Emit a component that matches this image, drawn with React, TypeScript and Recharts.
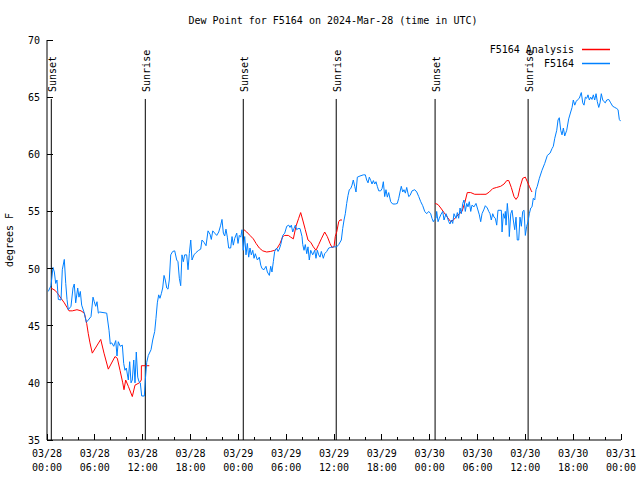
import React from 'react';
import { LineChart, Line, XAxis, YAxis, ReferenceLine } from 'recharts';

const FONT = '"DejaVu Sans Mono", "Liberation Mono", monospace';

// Observed dew point F5164: [hours since 03/28 00:00 UTC, degrees F]
const obsPoints: [number, number][] = [
  [0.16, 48.0], [0.5, 48.5], [0.75, 50.1], [0.92, 49.7], [1.09, 48.7], [1.25, 49.0], [1.42, 47.3], [1.76, 47.25],
  [1.92, 49.9], [2.17, 50.8], [2.35, 48.7], [2.51, 47.3], [2.67, 46.4], [3.01, 46.7], [3.26, 48.3], [3.42, 48.65],
  [3.6, 47.0], [3.85, 48.3], [4.01, 47.5], [4.18, 48.0], [4.35, 46.8], [4.68, 46.1], [4.93, 45.3], [5.18, 45.5],
  [5.52, 45.8], [5.77, 47.5], [5.93, 47.1], [6.11, 46.7], [6.27, 47.1], [6.44, 46.1], [6.61, 46.2], [7.49, 46.1],
  [7.78, 44.6], [7.94, 43.4], [8.12, 43.5], [8.37, 43.2], [8.62, 43.7], [8.78, 42.35], [8.94, 43.6], [9.19, 43.2],
  [9.45, 43.3], [9.62, 41.7], [9.78, 41.1], [9.95, 41.3], [10.2, 40.25], [10.37, 41.85], [10.54, 40.0], [10.7, 40.25],
  [10.88, 42.0], [11.04, 40.0], [11.2, 42.7], [11.38, 40.5], [11.54, 40.1], [11.7, 40.0], [11.88, 38.85], [12.21, 38.85],
  [12.33, 40.25], [12.51, 41.8], [12.71, 42.4], [13.05, 42.9], [13.26, 43.75], [13.51, 44.5], [13.67, 45.65], [13.84, 47.0],
  [14.01, 47.7], [14.17, 47.4], [14.34, 47.8], [14.51, 48.3], [14.68, 49.4], [14.84, 49.0], [15.02, 48.3], [15.18, 48.2],
  [15.34, 49.0], [15.52, 51.2], [15.77, 51.5], [16.02, 51.55], [16.27, 50.75], [16.43, 50.6], [16.6, 49.15], [16.77, 48.5],
  [16.93, 51.2], [17.1, 50.6], [17.27, 51.2], [17.52, 51.2], [17.69, 49.9], [17.85, 51.3], [18.03, 52.5], [18.19, 50.75],
  [18.44, 51.2], [18.69, 51.4], [19.03, 51.6], [19.28, 51.7], [19.44, 52.5], [19.69, 52.3], [19.95, 52.0], [20.2, 53.3],
  [20.45, 53.0], [20.61, 52.55], [20.79, 53.3], [21.04, 53.1], [21.29, 52.9], [21.54, 53.2], [21.79, 53.8], [21.95, 54.3],
  [22.12, 53.1], [22.29, 52.85], [22.45, 53.45], [22.62, 52.75], [22.79, 51.8], [23.04, 51.8], [23.21, 52.8], [23.37, 52.05],
  [23.55, 52.65], [23.8, 53.1], [23.96, 52.2], [24.12, 52.9], [24.3, 52.75], [24.46, 53.4], [24.62, 51.6], [24.8, 52.8],
  [24.96, 51.2], [25.13, 52.2], [25.3, 51.0], [25.46, 51.8], [25.63, 51.2], [25.81, 51.6], [25.97, 50.9], [26.13, 51.3],
  [26.39, 50.75], [26.63, 51.0], [26.81, 50.3], [26.97, 50.0], [27.22, 49.9], [27.47, 50.2], [27.64, 49.7], [27.89, 49.4],
  [28.06, 50.2], [28.22, 49.7], [28.39, 50.6], [28.56, 51.5], [28.81, 51.8], [28.98, 51.5], [29.14, 51.7], [29.32, 52.1],
  [29.57, 52.9], [29.82, 53.1], [30.07, 53.7], [30.32, 53.8], [30.48, 53.6], [30.65, 53.8], [30.82, 53.2], [30.98, 53.5],
  [31.15, 53.8], [31.32, 53.4], [31.49, 53.5], [31.74, 53.5], [31.99, 52.8], [32.08, 52.1], [32.24, 51.6], [32.4, 52.1],
  [32.58, 51.3], [32.74, 51.9], [32.9, 50.75], [33.08, 51.6], [33.33, 51.2], [33.58, 51.6], [33.74, 50.9], [33.91, 51.6],
  [34.08, 51.2], [34.25, 51.0], [34.41, 51.5], [34.66, 50.9], [34.83, 51.3], [35.09, 51.5], [35.34, 51.8], [35.59, 51.85],
  [35.91, 51.9], [36.34, 51.9], [36.59, 52.1], [36.92, 52.5], [37.09, 53.5], [37.26, 54.25], [37.42, 54.8], [37.59, 55.7],
  [37.76, 56.4], [37.92, 56.9], [38.1, 57.0], [38.26, 57.3], [38.42, 57.75], [38.6, 57.2], [38.76, 56.7], [38.93, 58.0],
  [39.26, 58.1], [39.68, 58.2], [39.93, 58.2], [40.1, 57.75], [40.27, 57.5], [40.43, 58.0], [40.61, 57.7], [40.77, 57.4],
  [40.94, 57.7], [41.11, 57.4], [41.27, 57.6], [41.43, 57.2], [41.61, 56.8], [41.86, 56.8], [42.03, 57.0], [42.19, 57.6],
  [42.36, 56.3], [42.52, 56.9], [42.69, 56.25], [42.86, 56.65], [43.11, 55.85], [43.36, 55.65], [43.69, 55.65], [43.94, 55.7],
  [44.12, 56.15], [44.28, 56.7], [44.44, 57.2], [44.62, 56.7], [44.78, 56.9], [44.95, 56.6], [45.12, 57.1], [45.37, 56.3],
  [45.54, 56.4], [45.79, 56.8], [46.13, 56.9], [46.38, 56.7], [46.63, 56.3], [46.88, 55.85], [47.13, 55.5], [47.38, 55.0],
  [47.63, 54.8], [47.88, 55.0], [48.13, 54.8], [48.29, 54.4], [48.46, 54.1], [48.63, 54.3], [48.8, 54.4], [48.88, 55.0],
  [49.05, 54.1], [49.21, 54.4], [49.39, 54.7], [49.64, 55.0], [49.8, 54.25], [50.05, 54.8], [50.21, 54.5], [50.39, 54.1],
  [50.55, 53.9], [50.72, 54.25], [50.89, 53.95], [51.05, 54.8], [51.3, 54.4], [51.47, 54.9], [51.64, 54.4], [51.81, 55.3],
  [51.97, 54.8], [52.15, 55.7], [52.31, 56.0], [52.47, 55.0], [52.65, 55.7], [52.81, 55.4], [52.97, 55.85], [53.15, 55.0],
  [53.31, 55.55], [53.56, 55.4], [53.81, 55.7], [53.98, 55.3], [54.23, 54.7], [54.4, 54.1], [54.57, 54.8], [54.82, 55.2],
  [54.98, 55.5], [55.23, 55.3], [55.41, 55.0], [55.57, 54.8], [55.73, 54.25], [55.91, 54.8], [56.07, 54.5], [56.24, 54.4],
  [56.41, 53.8], [56.57, 55.1], [56.82, 55.1], [56.99, 55.1], [57.08, 53.2], [57.24, 54.8], [57.41, 54.4], [57.49, 55.0],
  [57.58, 53.8], [57.74, 55.7], [57.92, 54.25], [57.99, 52.8], [58.17, 54.8], [58.33, 55.1], [58.49, 54.25], [58.67, 53.4],
  [58.83, 54.5], [58.99, 52.5], [59.17, 52.5], [59.33, 54.5], [59.5, 53.7], [59.67, 55.0], [59.84, 55.1], [60.0, 52.9],
  [60.17, 53.7], [60.34, 54.1], [60.5, 54.8], [60.68, 55.3], [60.84, 55.4], [61.0, 56.15], [61.18, 56.0], [61.34, 56.9],
  [61.5, 57.2], [61.76, 57.9], [62.09, 58.6], [62.43, 59.2], [62.76, 59.9], [63.1, 60.1], [63.35, 60.5], [63.51, 60.7],
  [63.69, 61.4], [63.94, 62.1], [64.1, 63.0], [64.26, 63.2], [64.44, 62.1], [64.6, 61.7], [64.77, 62.3], [64.94, 61.6],
  [65.19, 62.1], [65.44, 63.1], [65.69, 63.7], [65.86, 64.1], [66.02, 64.75], [66.2, 64.3], [66.36, 64.6], [66.52, 64.75],
  [66.77, 64.9], [67.02, 65.4], [67.2, 64.5], [67.36, 64.3], [67.53, 65.0], [67.7, 64.9], [67.86, 65.2], [68.03, 64.75],
  [68.2, 65.0], [68.36, 64.8], [68.53, 65.2], [68.7, 64.75], [68.87, 65.3], [69.03, 64.6], [69.21, 64.1], [69.37, 64.5],
  [69.53, 65.3], [69.71, 64.75], [69.87, 64.6], [70.03, 64.5], [70.21, 64.75], [70.46, 64.8], [70.71, 64.5], [70.96, 64.2],
  [71.22, 64.1], [71.47, 64.0], [71.63, 63.9], [71.79, 63.05], [71.95, 62.9],
];

// Analysis segments (nighttime only)
const analysisNight1: [number, number][] = [
  [0.5, 48.3], [1.0, 48.1], [1.25, 47.9], [1.76, 47.4], [2.17, 47.0], [2.51, 46.6], [2.76, 46.3], [3.17, 46.3],
  [3.76, 46.4], [4.27, 46.3], [4.68, 46.1], [4.77, 45.85], [4.98, 45.2], [5.18, 44.3], [5.39, 43.5], [5.68, 42.6],
  [6.74, 43.8], [7.15, 42.6], [7.69, 41.2], [8.53, 42.3], [8.82, 42.15], [9.16, 41.1], [9.5, 40.0], [9.66, 39.4],
  [9.87, 40.25], [10.2, 39.7], [10.7, 38.8], [11.04, 39.8], [11.58, 40.0], [11.83, 40.25], [11.84, 41.5], [12.83, 41.5],
];
const analysisNight2: [number, number][] = [
  [24.71, 53.4], [25.05, 53.2], [25.46, 52.9], [25.88, 52.6], [26.22, 52.2], [26.63, 51.8], [27.06, 51.55], [27.56, 51.45],
  [28.06, 51.5], [28.56, 51.6], [28.89, 51.8], [29.23, 52.2], [29.57, 52.8], [29.82, 52.9], [30.27, 52.9], [30.57, 52.75],
  [30.9, 52.6], [31.23, 53.7], [31.57, 54.4], [31.82, 54.9], [32.08, 54.25], [32.4, 53.4], [32.74, 52.5], [33.08, 52.3],
  [33.41, 51.9], [33.74, 51.6], [34.08, 52.1], [34.41, 52.6], [34.83, 53.2], [35.16, 52.8], [35.5, 52.2], [35.75, 51.85],
  [36.0, 51.9], [36.16, 52.8], [36.34, 53.2], [36.59, 54.1], [36.75, 54.25], [37.0, 54.25],
];
const analysisNight3: [number, number][] = [
  [48.71, 55.7], [49.05, 55.6], [49.39, 55.3], [49.8, 54.9], [50.21, 54.5], [50.64, 54.1], [50.97, 54.25], [51.3, 54.5],
  [51.72, 54.8], [52.06, 55.0], [52.4, 55.75], [52.72, 56.65], [53.15, 56.65], [53.65, 56.5], [54.32, 56.5], [55.07, 56.5],
  [55.48, 56.7], [55.91, 57.0], [56.41, 57.1], [56.91, 57.2], [57.33, 57.4], [57.67, 57.7], [57.92, 57.7], [58.24, 57.1],
  [58.58, 56.3], [58.83, 56.05], [59.08, 56.3], [59.33, 57.1], [59.67, 57.9], [60.0, 58.0], [60.25, 57.6], [60.5, 57.2],
  [60.75, 56.8], [60.84, 56.7],
];

const sunHours = [0.54, 12.33, 24.62, 36.28, 48.68, 60.35];
const sunLabels = ['Sunset', 'Sunrise', 'Sunset', 'Sunrise', 'Sunset', 'Sunrise'];

const minorTickHours = [0, 2, 4, 6, 8, 10, 12, 14, 16, 18, 20, 22, 24, 26, 28, 30, 32, 34, 36, 38, 40, 42, 44, 46, 48, 50, 52, 54, 56, 58, 60, 62, 64, 66, 68, 70, 72];
const labelHours = [0, 6, 12, 18, 24, 30, 36, 42, 48, 54, 60, 66, 72];
const tickDates = ['03/28', '03/28', '03/28', '03/28', '03/29', '03/29', '03/29', '03/29', '03/30', '03/30', '03/30', '03/30', '03/31'];
const tickTimes = ['00:00', '06:00', '12:00', '18:00', '00:00', '06:00', '12:00', '18:00', '00:00', '06:00', '12:00', '18:00', '00:00'];
const yTicks = [35, 40, 45, 50, 55, 60, 65, 70];

const seriesNames = ['F5164 Analysis', 'F5164'];
const seriesColors = ['#ff0000', '#0080ff'];

const obsData = obsPoints.map(([h, v]) => ({ h, v }));
const analysisData = [
  ...analysisNight1.map(([h, v]) => ({ h, v })),
  { h: 18, v: null },
  ...analysisNight2.map(([h, v]) => ({ h, v })),
  { h: 42, v: null },
  ...analysisNight3.map(([h, v]) => ({ h, v })),
];

const BottomTick = (props: any) => {
  const { x, y, payload } = props;
  const h = payload.value;
  const idx = labelHours.indexOf(h);
  const len = idx >= 0 ? 6 : 3;
  return (
    <g>
      <line x1={x} x2={x} y1={y} y2={y - len} stroke="#000" shapeRendering="crispEdges" />
      {idx >= 0 && (
        <text textAnchor="middle" fontFamily={FONT} fontSize={10} fill="#000">
          <tspan x={x} y={y + 17}>{tickDates[idx]}</tspan>
          <tspan x={x} y={y + 31}>{tickTimes[idx]}</tspan>
        </text>
      )}
    </g>
  );
};

const TopTick = (props: any) => {
  const { x, y, payload } = props;
  const len = labelHours.indexOf(payload.value) >= 0 ? 6 : 3;
  return <line x1={x} x2={x} y1={y} y2={y + len} stroke="#000" shapeRendering="crispEdges" />;
};

const LeftTick = (props: any) => {
  const { x, y, payload } = props;
  return (
    <g>
      <line x1={x} x2={x + 6} y1={y} y2={y} stroke="#000" shapeRendering="crispEdges" />
      <text x={x - 7} y={y + 4} textAnchor="end" fontFamily={FONT} fontSize={10} fill="#000">
        {payload.value}
      </text>
    </g>
  );
};

const RightTick = (props: any) => {
  const { x, y } = props;
  return <line x1={x} x2={x - 6} y1={y} y2={y} stroke="#000" shapeRendering="crispEdges" />;
};

const sunLabel = (text: string) => (props: any) => {
  const vb = props.viewBox || {};
  const x = (vb.x ?? 0) + 4.5;
  const y = (vb.y ?? 0) - 7;
  return (
    <text x={x} y={y} transform={`rotate(-90, ${x}, ${y})`} textAnchor="start" fontFamily={FONT} fontSize={10} fill="#000">
      {text}
    </text>
  );
};

export default function App() {
  return (
    <div style={{ position: 'absolute', left: 0, top: 0, width: 640, height: 480, background: '#fff' }}>
      <LineChart width={640} height={480} margin={{ top: 40, right: 19, bottom: 0, left: 7 }}>
        <XAxis
          dataKey="h"
          type="number"
          domain={[0, 72]}
          ticks={minorTickHours}
          interval={0}
          height={40}
          tickSize={0}
          tickMargin={0}
          tick={<BottomTick />}
          axisLine={{ stroke: '#000' }}
          allowDataOverflow
        />
        <XAxis
          xAxisId="top"
          orientation="top"
          dataKey="h"
          type="number"
          domain={[0, 72]}
          ticks={minorTickHours}
          interval={0}
          height={0}
          tickSize={0}
          tickMargin={0}
          tick={<TopTick />}
          axisLine={{ stroke: '#000' }}
          allowDataOverflow
        />
        <YAxis
          type="number"
          domain={[35, 70]}
          ticks={yTicks}
          interval={0}
          width={40}
          tickSize={0}
          tickMargin={0}
          tick={<LeftTick />}
          axisLine={{ stroke: '#000' }}
          allowDataOverflow
        />
        <YAxis
          yAxisId="right"
          orientation="right"
          type="number"
          domain={[35, 70]}
          ticks={yTicks}
          interval={0}
          width={0}
          tickSize={0}
          tickMargin={0}
          tick={<RightTick />}
          axisLine={{ stroke: '#000' }}
          allowDataOverflow
        />
        {sunHours.map((h, i) => (
          <ReferenceLine
            key={i}
            segment={[{ x: h, y: 64.84 }, { x: h, y: 35 }]}
            stroke="#000"
            strokeWidth={1}
            ifOverflow="visible"
            label={sunLabel(sunLabels[i])}
          />
        ))}
        <Line
          data={analysisData}
          dataKey="v"
          name={seriesNames[0]}
          type="linear"
          stroke={seriesColors[0]}
          strokeWidth={1}
          dot={false}
          activeDot={false}
          connectNulls={false}
          isAnimationActive={false}
        />
        <Line
          data={obsData}
          dataKey="v"
          name={seriesNames[1]}
          type="linear"
          stroke={seriesColors[1]}
          strokeWidth={1}
          dot={false}
          activeDot={false}
          isAnimationActive={false}
        />
      </LineChart>
      <svg width={640} height={480} style={{ position: 'absolute', left: 0, top: 0, pointerEvents: 'none' }}>
        <text x={333} y={24} textAnchor="middle" fontFamily={FONT} fontSize={10} fill="#000">
          Dew Point for F5164 on 2024-Mar-28 (time in UTC)
        </text>
        <text x={13} y={240} transform="rotate(-90, 13, 240)" textAnchor="middle" fontFamily={FONT} fontSize={10} fill="#000">
          degrees F
        </text>
        {seriesNames.map((name, i) => (
          <g key={name}>
            <text x={574} y={53 + i * 14} textAnchor="end" fontFamily={FONT} fontSize={10} fill="#000">
              {name}
            </text>
            <line x1={582} x2={610} y1={49.5 + i * 14} y2={49.5 + i * 14} stroke={seriesColors[i]} strokeWidth={1.5} />
          </g>
        ))}
      </svg>
    </div>
  );
}
